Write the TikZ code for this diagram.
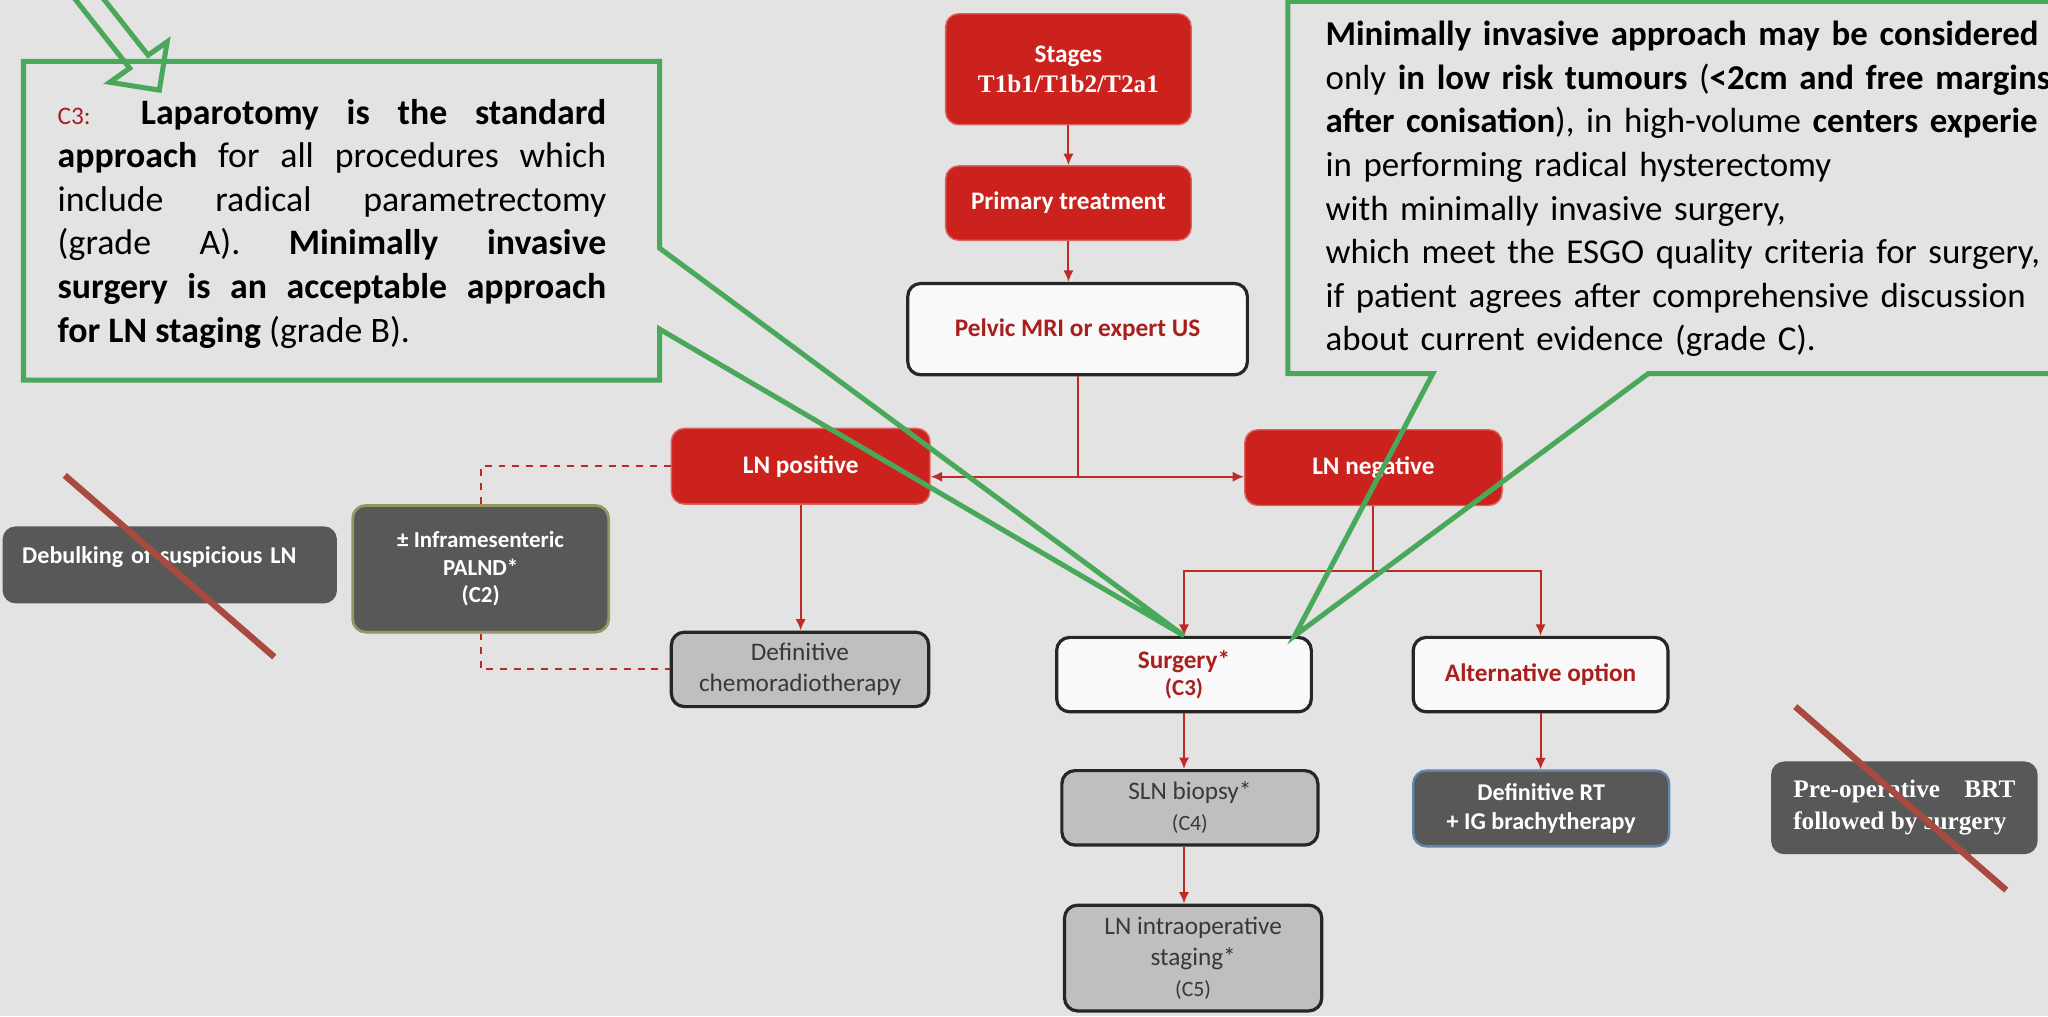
\documentclass[tikz,border=0pt]{standalone}
\usepackage{fontspec}
\setmainfont{Carlito}
\newfontfamily\serifbold{Liberation Serif}
\usetikzlibrary{arrows.meta,calc}
\hbadness=10000
\definecolor{bg}{RGB}{227,227,227}
\definecolor{boxred}{RGB}{204,34,30}
\definecolor{txtred}{RGB}{168,32,30}
\definecolor{lnred}{RGB}{192,42,38}
\definecolor{dkgray}{RGB}{88,88,88}
\definecolor{ltgray}{RGB}{191,191,191}
\definecolor{boxwhite}{RGB}{249,249,249}
\definecolor{callgreen}{RGB}{74,168,90}
\definecolor{crossred}{RGB}{168,74,64}
\definecolor{olivebrd}{RGB}{150,150,96}
\definecolor{bluebrd}{RGB}{96,132,170}

\begin{document}
\begin{tikzpicture}[x=0.2mm,y=-0.2mm,
  >={Latex[length=5pt,width=4.5pt]},
  box/.style={rectangle,rounded corners=2mm,align=center,inner sep=1mm,minimum width=39.4mm,minimum height=11.5mm},
  redbox/.style={box,fill=boxred,draw=boxred!70!white,line width=0.6pt,text=white,font=\bfseries\fontsize{11}{13}\selectfont},
  whitebox/.style={box,fill=boxwhite,draw=black!85,line width=1.4pt,text=txtred,font=\bfseries\fontsize{11}{12}\selectfont},
  greybox/.style={box,fill=ltgray,draw=black!85,line width=1.4pt,text=black!78,font=\fontsize{11}{13.6}\selectfont},
  darkbox/.style={box,fill=dkgray,text=white,font=\bfseries\fontsize{10.5}{12.5}\selectfont},
  link/.style={draw=lnred,line width=0.9pt},
  bubble/.style={draw=callgreen,line width=2.2pt,line join=miter},
  strikeline/.style={draw=crossred,line width=2.8pt}]

\useasboundingbox (0,0) rectangle (1568,778);
\clip (0,0) rectangle (1568,778);
\fill[bg] (0,0) rectangle (1568,778);

\node[redbox,minimum width=37.6mm,minimum height=17mm] (stages) at (818,53) {Stages\\{\serifbold T1b1/T1b2/T2a1}};
\node[redbox,minimum width=37.6mm,minimum height=11.4mm] (primary) at (818,155.5) {Primary treatment};
\node[whitebox,minimum width=52mm,minimum height=14mm] (mri) at (825,252) {Pelvic MRI or expert US};
\node[redbox,minimum width=39.6mm,minimum height=11.6mm] (lnpos) at (613,357) {LN positive};
\node[redbox,minimum width=39.4mm,minimum height=11.6mm] (lnneg) at (1051.5,358) {LN negative};
\node[greybox,minimum height=11.4mm] (chemo) at (612.5,512.5) {Definitive\\chemoradiotherapy};
\node[darkbox,draw=olivebrd,line width=1.2pt,minimum width=39.2mm,minimum height=19.4mm,font=\bfseries\fontsize{10}{12}\selectfont] (palnd) at (368,435.5) {± Inframesenteric\\PALND*\\(C2)};
\node[darkbox,minimum width=51.2mm,minimum height=11.8mm,align=left,text width=45.2mm,inner xsep=3mm,inner ysep=0pt,text height=5.7mm,text depth=6.1mm,font=\bfseries\fontsize{10.5}{13}\selectfont] (debulk) at (130,432.5) {Debulking of suspicious LN};
\node[whitebox,minimum width=39mm,minimum height=11.4mm] (surgery) at (906.5,516.5) {Surgery*\\{\fontsize{10}{12}\selectfont(C3)}};
\node[whitebox,minimum width=39mm,minimum height=11.4mm] (altopt) at (1179.5,516.5) {Alternative option};
\node[greybox,minimum width=39.2mm,minimum height=11.4mm] (sln) at (911,618.5) {SLN biopsy*\\{\fontsize{9.5}{12}\selectfont(C4)}};
\node[greybox,minimum width=39.4mm,minimum height=16.2mm] (lnintra) at (913.5,733.5) {LN intraoperative\\staging*\\{\fontsize{9.5}{12}\selectfont(C5)}};
\node[darkbox,draw=bluebrd,line width=1pt,minimum width=39.2mm,minimum height=11.6mm] (defrt) at (1180,619) {Definitive RT\\+ IG brachytherapy};
\node[darkbox,minimum width=40.8mm,minimum height=14.2mm,text width=34mm,align=justify,font=\serifbold\bfseries\fontsize{11}{14}\selectfont] (preop) at (1458,618.5) {Pre-operative BRT\linebreak followed by surgery};

\draw[link,->] (stages) -- (primary);
\draw[link,->] (primary) -- (primary.south |- mri.north);
\coordinate (split) at (mri.south |- 0,365);
\draw[link] (mri) -- (split);
\draw[link,->] (split) -- (split -| lnpos.east);
\draw[link,->] (split) -- (split -| lnneg.west);
\draw[link,->] (lnpos) -- (lnpos.south |- chemo.north);
\coordinate (fork) at (lnneg.south |- 0,437);
\draw[link] (lnneg) -- (fork);
\draw[link,->] (fork) -| (surgery);
\draw[link,->] (fork) -| (altopt);
\draw[link,->] (surgery) -- (surgery.south |- sln.north);
\draw[link,->] (surgery.south |- sln.south) -- (surgery.south |- lnintra.north);
\draw[link,->] (altopt) -- (altopt.south |- defrt.north);
\draw[link,dashed] (lnpos.west) -| (palnd.north);
\draw[link,dashed] (palnd.south) |- (chemo.west);

\draw[strikeline] (49.6,364) -- (210,503);
\draw[strikeline] (1374.5,541) -- (1536,681.5);

\draw[bubble] (18,47) -- (505,47) -- (505,190) -- (surgery.north) -- (505,252) -- (505,291) -- (18,291) -- cycle;
\draw[bubble] (46.6,-14.4) -- (99.3,52.2) -- (84,63) -- (122,69) -- (128,32) -- (113.4,42.3) -- (68.6,-14.4);
\draw[bubble] (1580,1) -- (986,1) -- (986,286) -- (1097,286) -- ($(surgery.north east)+(-14,0)$) -- (1262,286) -- (1580,286);

\node[anchor=base west,text width=84mm,align=justify,inner sep=0pt,font=\fontsize{15.6}{19}\selectfont] (lefttext) at (43.8,95) {{\color{txtred}\fontsize{11}{13}\selectfont C3:} \textbf{Laparotomy is the standard\linebreak approach} for all procedures which\linebreak include radical parametrectomy\linebreak (grade A). \textbf{Minimally invasive\linebreak surgery is an acceptable approach\linebreak for LN staging} (grade B).};
\node[anchor=base west,text width=125mm,align=left,inner sep=0pt,font=\fontsize{15.2}{19}\selectfont] (righttext) at (1014.6,35) {\hyphenpenalty=10000 \textbf{Minimally invasive approach may be considered}\\
only \textbf{in low risk tumours} (\textbf{<2cm and free margins}\\
\textbf{after conisation}), in high-volume \textbf{centers experie}\\
in performing radical hysterectomy\\
with minimally invasive surgery,\\
which meet the ESGO quality criteria for surgery,\\
if patient agrees after comprehensive discussion\\
about current evidence (grade C).};
\end{tikzpicture}
\end{document}
